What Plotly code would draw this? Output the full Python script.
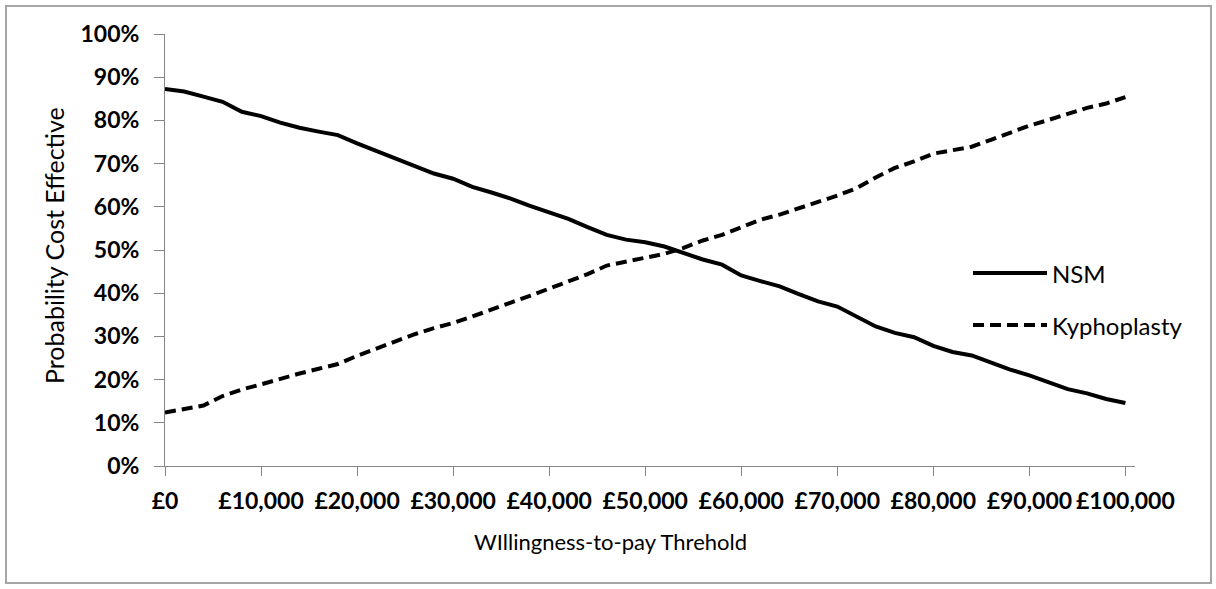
import plotly.graph_objects as go

# Willingness-to-pay threshold (GBP)
wtp = [0, 2000, 4000, 6000, 8000, 10000, 12000, 14000, 16000, 18000,
       20000, 22000, 24000, 26000, 28000, 30000, 32000, 34000, 36000, 38000,
       40000, 42000, 44000, 46000, 48000, 50000, 52000, 54000, 56000, 58000,
       60000, 62000, 64000, 66000, 68000, 70000, 72000, 74000, 76000, 78000,
       80000, 82000, 84000, 86000, 88000, 90000, 92000, 94000, 96000, 98000,
       100000]

# Probability cost effective (%)
nsm = [87.3, 86.7, 85.5, 84.3, 82.0, 81.0, 79.5, 78.3, 77.4, 76.6,
       74.7, 72.9, 71.1, 69.5, 67.7, 66.5, 64.6, 63.3, 61.9, 60.2,
       58.6, 57.2, 55.3, 53.5, 52.4, 51.8, 50.8, 49.3, 47.8, 46.6,
       44.1, 42.8, 41.6, 39.8, 38.1, 36.9, 34.6, 32.3, 30.8, 29.8,
       27.8, 26.4, 25.6, 24.0, 22.3, 21.0, 19.4, 17.8, 16.8, 15.5,
       14.6]

kyphoplasty = [12.4, 13.2, 14.0, 16.2, 17.7, 18.9, 20.2, 21.4, 22.5, 23.6,
               25.5, 27.2, 28.7, 30.5, 31.9, 33.1, 34.6, 36.3, 37.8, 39.4,
               41.1, 42.6, 44.4, 46.4, 47.3, 48.2, 49.1, 50.5, 52.2, 53.5,
               55.3, 57.0, 58.2, 59.6, 61.0, 62.6, 64.3, 66.8, 69.0, 70.5,
               72.3, 73.2, 73.9, 75.5, 77.2, 78.8, 80.1, 81.6, 82.9, 83.9,
               85.4]

x_ticks = [0, 10000, 20000, 30000, 40000, 50000, 60000, 70000, 80000, 90000, 100000]
x_tick_labels = ["£0", "£10,000", "£20,000", "£30,000", "£40,000", "£50,000",
                 "£60,000", "£70,000", "£80,000", "£90,000", "£100,000"]
y_ticks = [0, 10, 20, 30, 40, 50, 60, 70, 80, 90, 100]
y_tick_labels = ["0%", "10%", "20%", "30%", "40%", "50%", "60%", "70%", "80%", "90%", "100%"]

FONT = "Lato, Carlito, Calibri, sans-serif"
AXIS_GRAY = "#868686"
KYPHO_DASH = "11px,6px"

fig = go.Figure()
fig.add_trace(go.Scatter(x=wtp, y=nsm, mode="lines", name="NSM",
                         line=dict(color="black", width=4), showlegend=False))
fig.add_trace(go.Scatter(x=wtp, y=kyphoplasty, mode="lines", name="Kyphoplasty",
                         line=dict(color="black", width=4, dash=KYPHO_DASH),
                         showlegend=False))

fig.update_layout(
    width=1216, height=589,
    margin=dict(l=165, r=81, t=34, b=123),
    paper_bgcolor="white", plot_bgcolor="white",
    font=dict(family=FONT, color="black"),
    xaxis=dict(range=[0, 101000], tickvals=x_ticks, ticktext=x_tick_labels,
               showgrid=False, zeroline=False, showline=True, linecolor=AXIS_GRAY,
               linewidth=1, ticks="outside", ticklen=9, tickcolor=AXIS_GRAY,
               tickfont=dict(family=FONT, size=23, color="black", weight="bold"),
               ticklabelstandoff=5),
    yaxis=dict(range=[0, 100], tickvals=y_ticks, ticktext=y_tick_labels,
               showgrid=False, zeroline=False, showline=True, linecolor=AXIS_GRAY,
               linewidth=1, ticks="outside", ticklen=10, tickcolor=AXIS_GRAY,
               tickfont=dict(family=FONT, size=23, color="black", weight="bold"),
               ticklabelstandoff=10),
)

# outer chart border
fig.add_shape(type="rect", xref="paper", yref="paper",
              x0=(6 - 165) / 970, x1=(1211 - 165) / 970,
              y0=(466 - 583) / 432, y1=(466 - 6) / 432,
              line=dict(color="#a6a6a6", width=2), layer="below")

# axis titles
fig.add_annotation(text="WIllingness-to-pay Threhold", xref="paper", yref="paper",
                   x=(610 - 165) / 970, y=-(541 - 466) / 432, showarrow=False,
                   font=dict(family=FONT, size=22, color="black"),
                   xanchor="center", yanchor="middle")
fig.add_annotation(text="Probability Cost Effective", xref="paper", yref="paper",
                   x=(54 - 165) / 970, y=(466 - 246) / 432, showarrow=False,
                   textangle=-90,
                   font=dict(family=FONT, size=25, color="black"),
                   xanchor="center", yanchor="middle")

# legend (drawn manually for long line samples)
legend_items = [("NSM", None, 273), ("Kyphoplasty", KYPHO_DASH, 325)]
for label, dash, ypx in legend_items:
    yp = (466 - ypx) / 432
    fig.add_shape(type="line", xref="paper", yref="paper",
                  x0=(973 - 165) / 970, x1=(1047 - 165) / 970, y0=yp, y1=yp,
                  line=dict(color="black", width=4, dash=dash or "solid"))
    fig.add_annotation(text=label, xref="paper", yref="paper",
                       x=(1050 - 165) / 970, y=yp, showarrow=False,
                       xanchor="left", yanchor="middle",
                       font=dict(family=FONT, size=24, color="black"))

fig.write_html("out.html", config={"displayModeBar": False},
               post_script="document.body.style.margin='0';")
